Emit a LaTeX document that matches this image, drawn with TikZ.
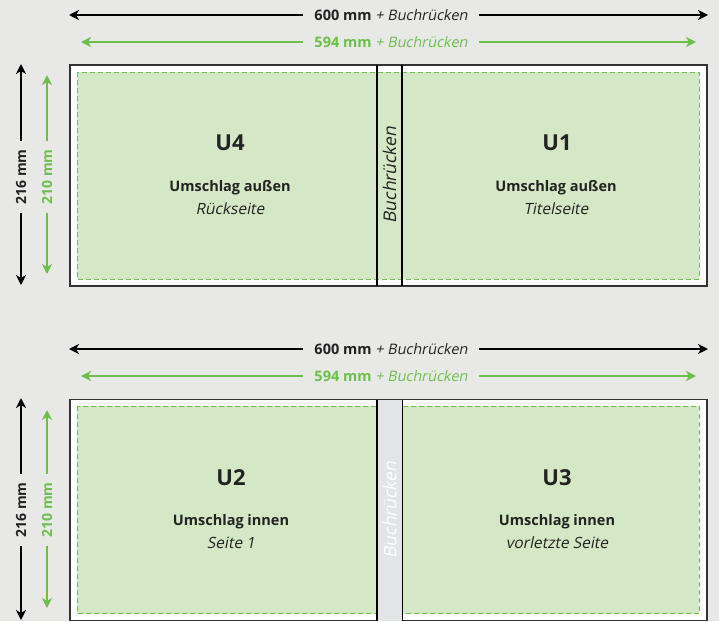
\documentclass[tikz,border=0pt]{standalone}
\usepackage{fontspec}
\setmainfont{Open Sans}
\newfontfamily\slfont{Open Sans}[FakeSlant=0.2]
\usetikzlibrary{arrows.meta}
\definecolor{bg}{HTML}{E8E8E7}
\definecolor{pagegreen}{HTML}{D5E8C5}
\definecolor{dimgreen}{HTML}{6CC04A}
\definecolor{framecol}{HTML}{333333}
\definecolor{spinegrey}{HTML}{E3E4E6}
\definecolor{txt}{HTML}{222222}
\begin{document}
\begin{tikzpicture}[x=1pt,y=-1pt,
  outerpage/.style={draw=framecol,line width=1.6pt,fill=white},
  innerpage/.style={draw=dimgreen,dashed,dash pattern=on 5pt off 3pt,line width=0.8pt,fill=pagegreen},
  spineline/.style={draw=black,line width=1.8pt},
  tip/.style={-{Stealth[length=10pt,width=10pt,inset=3pt]}},
  dimblack/.style={draw=black,line width=1.8pt,tip},
  dimgreenline/.style={draw=dimgreen,line width=1.8pt,tip},
  dimlabel/.style={inner sep=0pt,font=\fontsize{14.5}{17}\selectfont,text=txt},
  vdimlabel/.style={inner sep=0pt,font=\fontsize{14}{17}\selectfont,text=txt},
  ulabel/.style={font=\fontsize{22}{26}\selectfont\bfseries,text=txt,inner sep=0pt},
  titlelabel/.style={font=\fontsize{14.5}{17}\selectfont\bfseries,text=txt,inner sep=0pt},
  sublabel/.style={font=\fontsize{15.5}{19}\selectfont\slfont,text=txt,inner sep=0pt},
  spinelabel/.style={font=\fontsize{17.5}{20}\selectfont\slfont,inner sep=0pt,rotate=90}
]
\fill[bg] (0,0) rectangle (719,621);
\useasboundingbox (0,0) rectangle (719,621);

% ---------- top panel ----------
\draw[outerpage] (70,65) rectangle (707,286);
\draw[innerpage] (77,72) rectangle (699,279);
\draw[spineline] (377,65) -- (377,286);
\draw[spineline] (402,65) -- (402,286);
\node[spinelabel,text=txt] (spA) at (389.5,175) {Buchrücken};
\node[ulabel] (u4) at (230,143) {U4};
\node[titlelabel] (u4t) at (230,188) {Umschlag außen};
\node[sublabel] (u4s) at (230,209) {Rückseite};
\node[ulabel] (u1) at (557,143) {U1};
\node[titlelabel] (u1t) at (556,188) {Umschlag außen};
\node[sublabel] (u1s) at (556,209) {Titelseite};

% horizontal dims top
\coordinate (hA1) at (69,15);
\coordinate (hA2) at (708,15);
\node[dimlabel,minimum width=176pt] (hAl) at (391,15) {\textbf{600 mm} {\slfont + Buchrücken}};
\draw[dimblack] (hAl.west) -- (hA1);
\draw[dimblack] (hAl.east) -- (hA2);
\coordinate (gA1) at (81,42);
\coordinate (gA2) at (696,42);
\node[dimlabel,text=dimgreen,minimum width=176pt] (gAl) at (391,42) {\textbf{594 mm} {\slfont + Buchrücken}};
\draw[dimgreenline] (gAl.west) -- (gA1);
\draw[dimgreenline] (gAl.east) -- (gA2);

% vertical dims top
\coordinate (vA1) at (21,64);
\coordinate (vA2) at (21,285);
\node[vdimlabel,rotate=90,minimum width=72pt] (vAl) at (21,177) {\textbf{216 mm}};
\draw[dimblack] (vAl.east) -- (vA1);
\draw[dimblack] (vAl.west) -- (vA2);
\coordinate (wA1) at (47,75);
\coordinate (wA2) at (47,274);
\node[vdimlabel,rotate=90,text=dimgreen,minimum width=72pt] (wAl) at (47,177) {\textbf{210 mm}};
\draw[dimgreenline] (wAl.east) -- (wA1);
\draw[dimgreenline] (wAl.west) -- (wA2);

% ---------- bottom panel ----------
\draw[outerpage] (70,399.5) rectangle (707,620.5);
\draw[innerpage] (77,406) rectangle (699,613.5);
\fill[spinegrey] (377,399.5) rectangle (402.5,620.5);
\draw[spineline] (377,399.5) -- (377,621);
\draw[spineline] (402.5,399.5) -- (402.5,621);
\node[spinelabel,text=white] (spB) at (389.75,510) {Buchrücken};
\node[ulabel] (u2) at (231,478) {U2};
\node[titlelabel] (u2t) at (231,522) {Umschlag innen};
\node[sublabel] (u2s) at (231,543) {Seite 1};
\node[ulabel] (u3) at (557,478) {U3};
\node[titlelabel] (u3t) at (557,522) {Umschlag innen};
\node[sublabel] (u3s) at (557,543) {vorletzte Seite};

% horizontal dims bottom
\coordinate (hB1) at (69,349);
\coordinate (hB2) at (708,349);
\node[dimlabel,minimum width=176pt] (hBl) at (391,349) {\textbf{600 mm} {\slfont + Buchrücken}};
\draw[dimblack] (hBl.west) -- (hB1);
\draw[dimblack] (hBl.east) -- (hB2);
\coordinate (gB1) at (81,376);
\coordinate (gB2) at (696,376);
\node[dimlabel,text=dimgreen,minimum width=176pt] (gBl) at (391,376) {\textbf{594 mm} {\slfont + Buchrücken}};
\draw[dimgreenline] (gBl.west) -- (gB1);
\draw[dimgreenline] (gBl.east) -- (gB2);

% vertical dims bottom
\coordinate (vB1) at (21,398);
\coordinate (vB2) at (21,620);
\node[vdimlabel,rotate=90,minimum width=72pt] (vBl) at (21,510) {\textbf{216 mm}};
\draw[dimblack] (vBl.east) -- (vB1);
\draw[dimblack] (vBl.west) -- (vB2);
\coordinate (wB1) at (47,410);
\coordinate (wB2) at (47,608);
\node[vdimlabel,rotate=90,text=dimgreen,minimum width=72pt] (wBl) at (47,510) {\textbf{210 mm}};
\draw[dimgreenline] (wBl.east) -- (wB1);
\draw[dimgreenline] (wBl.west) -- (wB2);
\end{tikzpicture}
\end{document}
